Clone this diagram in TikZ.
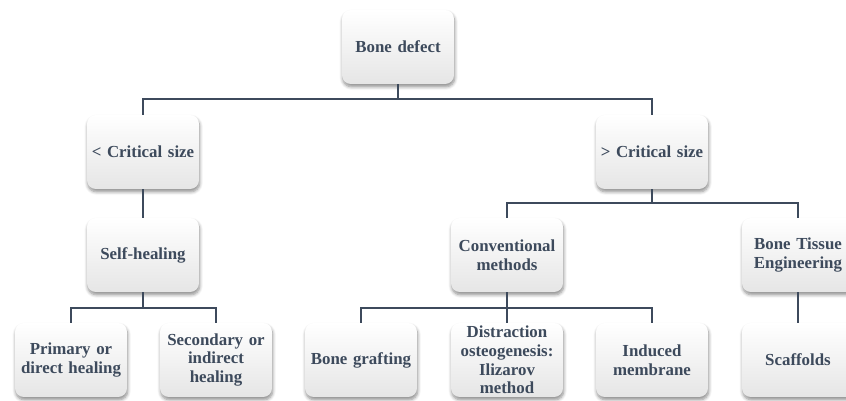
\documentclass[tikz,border=0pt]{standalone}
\usepackage{fontspec}
\setmainfont{Liberation Serif}
\usetikzlibrary{positioning,shadows.blur}
\definecolor{inkslate}{HTML}{3D4A5C}

\begin{document}
\begin{tikzpicture}[x=0.02cm,y=-0.02cm,
    every node/.style={rectangle,rounded corners=5pt,align=center,
      minimum width=2.24cm,minimum height=1.48cm,text width=2.16cm,
      inner sep=1pt,top color=white,middle color=white,bottom color=black!10,
      blur shadow={shadow xshift=0.4pt,shadow yshift=-1.6pt,shadow blur steps=6,shadow opacity=45},
      font=\fontsize{9.6}{10.6}\selectfont\bfseries,text=inkslate},
    link/.style={draw=inkslate,line width=1.1pt}
]
\useasboundingbox (0,0) rectangle (846,401);

\node (defect)  at (398,47)  {Bone defect};
\node (less)    at (143,152) {< Critical size};
\node (more)    at (652,152) {> Critical size};
\node (self)    at (143,255) {Self-healing};
\node (conv)    at (507,255) {Conventional\\methods};
\node (bte)     at (798,255) {Bone Tissue\\Engineering};
\node (primary) at (71,360)  {Primary or\\direct healing};
\node (second)  at (216,360) {Secondary or\\indirect\\healing};
\node (graft)   at (361,360) {Bone grafting};
\node (distr)   at (507,360) {Distraction\\osteogenesis:\\Ilizarov\\method};
\node (induced) at (652,360) {Induced\\membrane};
\node (scaf)    at (798,360) {Scaffolds};

\coordinate (j1) at (398,99);
\coordinate (j2) at (652,203);
\coordinate (j3) at (143,308);
\coordinate (j4) at (507,308);

\draw[link] (defect) -- (j1) -| (less);
\draw[link] (j1) -| (more);
\draw[link] (less) -- (self);
\draw[link] (more) -- (j2) -| (conv);
\draw[link] (j2) -| (bte);
\draw[link] (self) -- (j3) -| (primary);
\draw[link] (j3) -| (second);
\draw[link] (conv) -- (j4) -| (graft);
\draw[link] (j4) -| (induced);
\draw[link] (j4) -- (distr);
\draw[link] (bte) -- (scaf);
\end{tikzpicture}
\end{document}
